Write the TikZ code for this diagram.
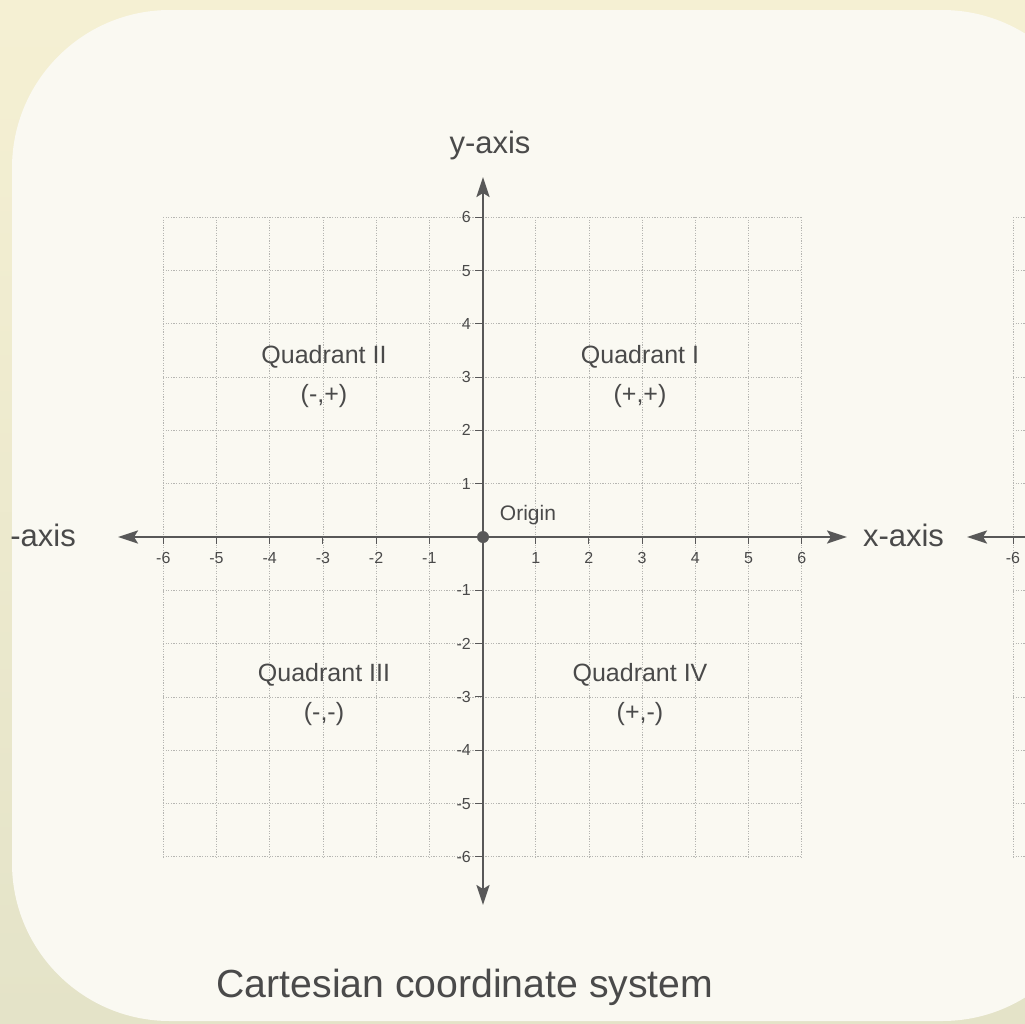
\documentclass[tikz,border=0pt]{standalone}
\usepackage{fontspec}
\setmainfont{Liberation Sans}
\usetikzlibrary{arrows.meta}
\definecolor{bgtop}{HTML}{F5F0D3}
\definecolor{bgbot}{HTML}{E4E3C8}
\definecolor{bgin}{HTML}{FAF9F2}
\definecolor{axisc}{HTML}{585858}
\definecolor{gridc}{HTML}{B6B6B2}
\definecolor{txt}{HTML}{4A4A4A}
\tikzset{
  axtip/.tip={Stealth[length=20pt,width=13pt,inset=4pt]},
  gridline/.style={gridc, line width=0.8pt, dash pattern=on 1.2pt off 1.4pt},
  axisline/.style={axisc, line width=2.4pt},
  tickmark/.style={axisc, line width=1pt},
  ticklab/.style={text=txt, inner sep=0pt, font=\fontsize{16}{16}\selectfont},
  biglab/.style={text=txt, inner sep=0pt, font=\fontsize{31}{31}\selectfont},
  quadlab/.style={text=txt, inner sep=0pt, font=\fontsize{25}{25}\selectfont},
}
\begin{document}
\begin{tikzpicture}[x=1pt,y=-1pt]
\useasboundingbox (0,0) rectangle (1025,1023);
\clip (0,0) rectangle (1025,1023);
% background
\shade[top color=bgtop, bottom color=bgbot] (0,0) rectangle (1025,1023);
\fill[bgin, rounded corners=158pt] (12,10) rectangle (1100,1021);
% main grid
\foreach \i in {-6,...,6} {
  \draw[gridline] (482.5+53.2*\i,217) -- (482.5+53.2*\i,857);
  \draw[gridline] (163,537+53.3*\i) -- (801,537+53.3*\i);
  % right partial copy
  \draw[gridline] (1013,537+53.3*\i) -- (1030,537+53.3*\i);
}
\draw[gridline] (1013,217) -- (1013,857);
% axes
\coordinate (xl) at (118,537);
\coordinate (xr) at (847,537);
\coordinate (yt) at (483,177);
\coordinate (yb) at (483,905);
\coordinate (xl2) at (967,537);
\coordinate (xr2) at (1030,537);
\draw[axisline, {axtip}-{axtip}] (xl) -- (xr);
\draw[axisline, {axtip}-{axtip}] (yt) -- (yb);
\draw[axisline, {axtip}-] (xl2) -- (xr2);
% ticks and labels
\foreach \i in {-6,...,-1,1,2,...,6} {
  \draw[tickmark] (482.5+53.2*\i,537) -- (482.5+53.2*\i,544);
  \node[ticklab, anchor=base] (xt\i) at (482.5+53.2*\i,563.5) {\i};
  \draw[tickmark] (475,537-53.3*\i) -- (483,537-53.3*\i);
  \node[ticklab, anchor=base east] (yt\i) at (471,542.5-53.3*\i) {\i};
}
\draw[tickmark] (1013,537) -- (1013,544);
\node[ticklab, anchor=base] (xt2) at (1013,563.5) {-6};
% origin
\fill[axisc] (483,537) circle (6pt);
\node[text=txt, inner sep=0pt, font=\fontsize{21}{21}\selectfont, anchor=base] (orig) at (528,520) {Origin};
% axis labels
\node[biglab, anchor=base] (ylab) at (490,153) {y-axis};
\node[biglab, anchor=base] (xlab) at (903.5,546) {x-axis};
\node[biglab, anchor=base east] (xlab0) at (76,546) {-axis};
% quadrants
\node[quadlab, anchor=base] (q2) at (324,363) {Quadrant II};
\node[quadlab, anchor=base] (q2s) at (324,402) {(-,+)};
\node[quadlab, anchor=base] (q1) at (640,363) {Quadrant I};
\node[quadlab, anchor=base] (q1s) at (640,402) {(+,+)};
\node[quadlab, anchor=base] (q3) at (324,681) {Quadrant III};
\node[quadlab, anchor=base] (q3s) at (324,720) {(-,-)};
\node[quadlab, anchor=base] (q4) at (640,681) {Quadrant IV};
\node[quadlab, anchor=base] (q4s) at (640,720) {(+,-)};
% title
\node[text=txt, inner sep=0pt, font=\fontsize{39.2}{40}\selectfont, anchor=base] (title) at (465,997) {Cartesian coordinate system};
\end{tikzpicture}
\end{document}
